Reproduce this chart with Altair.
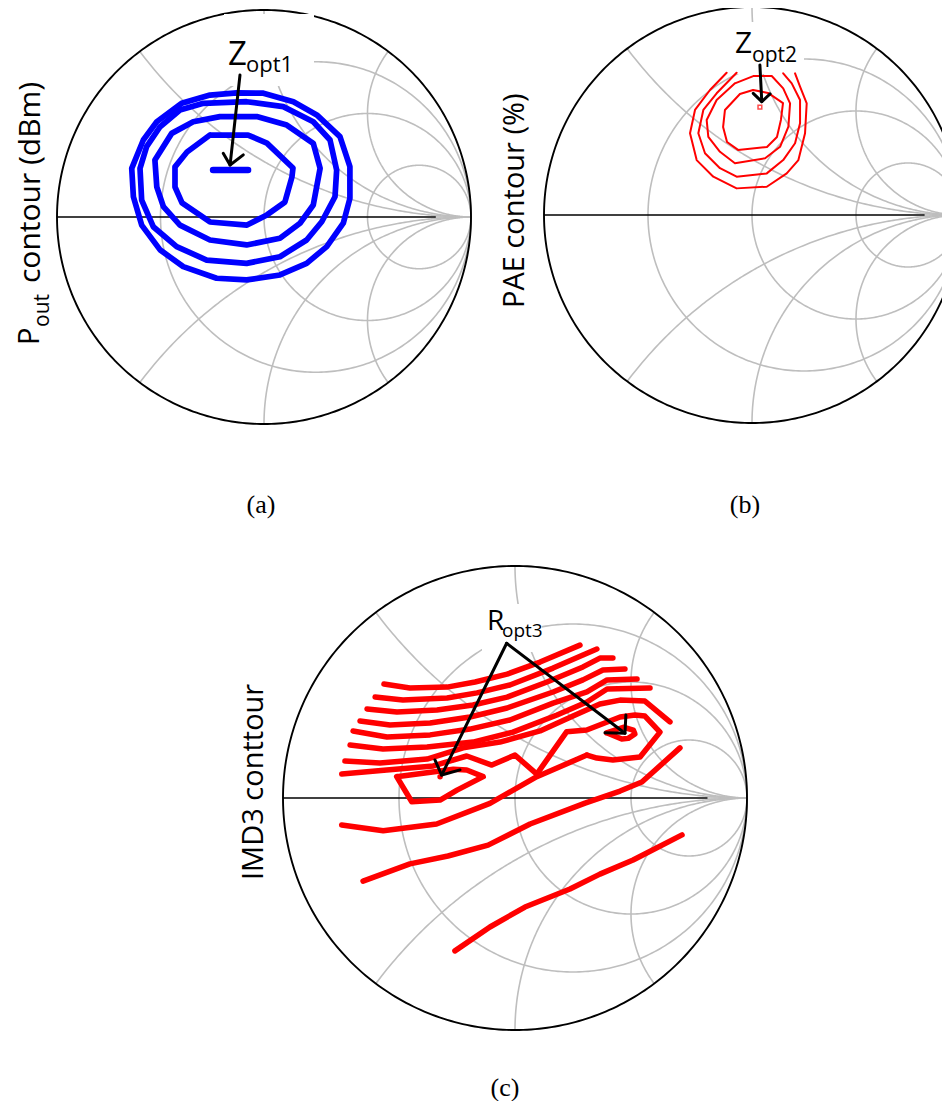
import numpy as np
import pandas as pd
import altair as alt

# ---------------- layout of the three Smith charts (page pixels: centre x, centre y, radius)
PANELS = {"a": (264.0, 217.0, 207.0), "b": (752.0, 215.0, 208.0), "c": (515.0, 798.0, 232.0)}

# ---------------- Smith chart grid values
R_CIRCLES = [1 / 3, 1.0, 3.0]
X_ARCS = [0.5, 1.0, 2.0]
AXIS_BLACK_END = 0.83

# ---------------- (a) Pout contours (reflection coefficient, real / imag)
A1_RE = [-0.398, -0.261, -0.132, -0.003, 0.142, 0.255, 0.367, 0.415, 0.415, 0.383, 0.303, 0.206, 0.077, -0.084, -0.229, -0.390, -0.502, -0.591, -0.631, -0.639, -0.583, -0.518]
A1_IM = [0.549, 0.589, 0.600, 0.598, 0.557, 0.493, 0.388, 0.243, 0.090, -0.030, -0.143, -0.224, -0.280, -0.304, -0.296, -0.240, -0.159, -0.039, 0.098, 0.235, 0.372, 0.460]
A2_RE = [-0.502, -0.406, -0.293, -0.084, 0.093, 0.238, 0.319, 0.351, 0.343, 0.279, 0.206, 0.077, -0.084, -0.277, -0.422, -0.535, -0.591, -0.599, -0.567]
A2_IM = [0.436, 0.517, 0.549, 0.557, 0.533, 0.460, 0.372, 0.227, 0.098, -0.023, -0.111, -0.192, -0.224, -0.208, -0.143, -0.047, 0.082, 0.235, 0.340]
A3_RE = [-0.213, -0.035, 0.110, 0.238, 0.271, 0.238, 0.174, 0.077, -0.084, -0.261, -0.406, -0.486, -0.518, -0.527, -0.446, -0.342]
A3_IM = [0.485, 0.485, 0.444, 0.356, 0.235, 0.058, -0.030, -0.103, -0.135, -0.111, -0.039, 0.050, 0.146, 0.275, 0.404, 0.460]
A4_RE = [-0.261, -0.077, 0.014, 0.140, 0.135, 0.101, 0.014, -0.082, -0.261, -0.396, -0.430, -0.430, -0.372]
A4_IM = [0.396, 0.396, 0.357, 0.237, 0.193, 0.072, 0.010, -0.039, -0.024, 0.068, 0.145, 0.242, 0.314]
A_OPT_RE = [-0.246, -0.077]
A_OPT_IM = [0.227, 0.227]

# ---------------- (b) PAE contours
B1_RE = [-0.058, 0.005, 0.077, 0.149, 0.139, 0.120, 0.072, -0.067, -0.120, -0.139, -0.130]
B1_IM = [0.582, 0.601, 0.587, 0.538, 0.457, 0.375, 0.327, 0.313, 0.351, 0.423, 0.505]
B2_RE = [-0.082, 0.006, 0.095, 0.150, 0.183, 0.175, 0.135, 0.063, -0.082, -0.154, -0.210, -0.218, -0.170]
B2_IM = [0.633, 0.668, 0.668, 0.609, 0.537, 0.425, 0.328, 0.273, 0.249, 0.304, 0.376, 0.457, 0.553]
B3_RE = [-0.074, -0.170, -0.234, -0.258, -0.226, -0.154, -0.074, 0.071, 0.150, 0.207, 0.231, 0.231, 0.191, 0.150]
B3_IM = [0.684, 0.585, 0.505, 0.393, 0.297, 0.225, 0.184, 0.200, 0.264, 0.345, 0.441, 0.553, 0.633, 0.681]
B4_RE = [-0.122, -0.202, -0.274, -0.298, -0.266, -0.186, -0.074, 0.071, 0.167, 0.223, 0.255, 0.263, 0.231, 0.207]
B4_IM = [0.684, 0.601, 0.505, 0.393, 0.264, 0.184, 0.128, 0.136, 0.200, 0.264, 0.393, 0.537, 0.617, 0.681]
B_OPT_RE = [0.038]
B_OPT_IM = [0.519]

# ---------------- (c) IMD3 contours
C_L1_RE = [-0.565, -0.453, -0.293, -0.172, -0.034, 0.108, 0.280]
C_L1_IM = [0.491, 0.474, 0.478, 0.500, 0.534, 0.586, 0.659]
C_L2_RE = [-0.603, -0.483, -0.293, -0.164, -0.022, 0.164, 0.293, 0.353]
C_L2_IM = [0.435, 0.422, 0.431, 0.453, 0.487, 0.560, 0.616, 0.642]
C_L3_RE = [-0.638, -0.509, -0.336, -0.181, -0.034, 0.138, 0.293, 0.366, 0.422]
C_L3_IM = [0.384, 0.371, 0.379, 0.401, 0.435, 0.500, 0.565, 0.603, 0.603]
C_L4_RE = [-0.668, -0.539, -0.366, -0.194, -0.034, 0.164, 0.293, 0.379, 0.474]
C_L4_IM = [0.332, 0.315, 0.323, 0.349, 0.388, 0.457, 0.509, 0.552, 0.556]
C_L5_RE = [-0.698, -0.552, -0.366, -0.194, -0.022, 0.164, 0.310, 0.397, 0.526]
C_L5_IM = [0.289, 0.263, 0.272, 0.297, 0.336, 0.409, 0.457, 0.509, 0.513]
C_L6_RE = [-0.711, -0.569, -0.379, -0.181, -0.009, 0.181, 0.310, 0.397, 0.582]
C_L6_IM = [0.228, 0.211, 0.220, 0.241, 0.284, 0.358, 0.414, 0.470, 0.474]
C_L7_RE = [-0.733, -0.582, -0.379, -0.224, -0.065, 0.108, 0.250, 0.366, 0.453, 0.560, 0.668]
C_L7_IM = [0.159, 0.151, 0.168, 0.216, 0.241, 0.289, 0.353, 0.405, 0.422, 0.418, 0.328]
C_L8_RE = [-0.747, -0.553, -0.352, -0.208, -0.100, 0.000, 0.094]
C_L8_IM = [0.103, 0.121, 0.138, 0.181, 0.142, 0.185, 0.103]
C_LOOP_RE = [0.094, 0.223, 0.309, 0.453, 0.517, 0.560, 0.625, 0.539, 0.422, 0.353, 0.310]
C_LOOP_IM = [0.103, 0.286, 0.293, 0.349, 0.358, 0.353, 0.284, 0.177, 0.164, 0.172, 0.185]
C_D1_RE = [-0.747, -0.568, -0.338, -0.108, 0.094, 0.310]
C_D1_IM = [-0.116, -0.141, -0.112, -0.023, 0.092, 0.185]
C_POLY_RE = [-0.510, -0.445, -0.323, -0.250, -0.137, -0.208, -0.266]
C_POLY_IM = [0.092, -0.016, -0.009, 0.034, 0.092, 0.121, 0.124]
C_SMALL_RE = [0.395, 0.467, 0.510, 0.517, 0.488, 0.460]
C_SMALL_IM = [0.281, 0.305, 0.293, 0.276, 0.257, 0.254]
C_D2_RE = [-0.655, -0.453, -0.289, -0.116, 0.065, 0.302, 0.453, 0.547, 0.711]
C_D2_IM = [-0.358, -0.284, -0.250, -0.203, -0.112, -0.022, 0.030, 0.069, 0.216]
C_D3_RE = [-0.259, -0.108, 0.043, 0.237, 0.366, 0.509, 0.720]
C_D3_IM = [-0.659, -0.556, -0.470, -0.392, -0.328, -0.267, -0.159]
C_OPT_RE = [-0.323]
C_OPT_IM = [0.092]

# ---------------- annotation arrows (real / imag)
ARR_A_SHAFT = ([-0.116, -0.164], [0.686, 0.251])
ARR_A_HEAD = ([-0.197, -0.164, -0.100], [0.308, 0.251, 0.300])
ARR_B_SHAFT = ([0.038, 0.047], [0.721, 0.545])
ARR_B_HEAD = ([0.006, 0.047, 0.087], [0.585, 0.545, 0.582])
ARR_C1_SHAFT = ([-0.036, -0.316], [0.667, 0.099])
ARR_C1_HEAD = ([-0.345, -0.316, -0.237], [0.164, 0.099, 0.121])
ARR_C2_SHAFT = ([-0.036, 0.474], [0.667, 0.279])
ARR_C2_HEAD = ([0.388, 0.474, 0.478], [0.281, 0.279, 0.358])

# ---------------- texts
LABEL_BOX_X1 = [224, 728, 482]
LABEL_BOX_X2 = [314, 804, 542]
LABEL_BOX_Y1 = [14, 22, 604]
LABEL_BOX_Y2 = [86, 74, 652]

H_TEXT = ["Z", "opt1", "Z", "opt2", "R", "opt3"]
H_TEXT_X = [228, 246, 735, 752, 487, 502]
H_TEXT_Y = [65, 72, 53, 62, 630, 637]
H_TEXT_SIZE = [33, 22, 30, 21, 28, 19]

V_TEXT = ["P", "out", "contour (dBm)", "PAE contour (%)", "IMD3 conttour"]
V_TEXT_X = [39, 49, 40, 524, 263]
V_TEXT_Y = [345, 327, 283, 308, 880]
V_TEXT_SIZE = [29, 21, 30, 29, 29]

P_TEXT = ["(a)", "(b)", "(c)"]
P_TEXT_X = [261, 745, 505]
P_TEXT_Y = [505, 505, 1088]

# ---------------- build line table
rows = []


def add(kind, gid, panel, re, im):
    cx, cy, R = PANELS[panel]
    for i, (u, v) in enumerate(zip(re, im)):
        rows.append({"kind": kind, "g": gid, "i": i, "X": cx + R * float(u), "Y": cy - R * float(v)})


def closed(re, im):
    return list(re) + [re[0]], list(im) + [im[0]]


t = np.linspace(0, 2 * np.pi, 361)
rr = np.concatenate([np.linspace(0, 1, 80), np.geomspace(1, 3000, 200)[1:]])
for p in PANELS:
    add("outer", f"{p}-outer", p, np.cos(t), np.sin(t))
    for k, r in enumerate(R_CIRCLES):
        c = r / (1 + r)
        rad = 1 / (1 + r)
        add("grid", f"{p}-r{k}", p, c + rad * np.cos(t), rad * np.sin(t))
    for k, xv in enumerate(X_ARCS):
        for s in (1, -1):
            z = rr + 1j * s * xv
            gm = (z - 1) / (z + 1)
            add("grid", f"{p}-x{k}{s}", p, list(gm.real) + [1.0], list(gm.imag) + [0.0])
    add("grid", f"{p}-tail", p, [AXIS_BLACK_END, 1.0], [0.0, 0.0])
    add("axis", f"{p}-axis", p, [-1.0, AXIS_BLACK_END], [0.0, 0.0])

for n, (re, im) in enumerate([(A1_RE, A1_IM), (A2_RE, A2_IM), (A3_RE, A3_IM), (A4_RE, A4_IM)]):
    add("blue", f"a-c{n}", "a", *closed(re, im))
add("bluebar", "a-opt", "a", A_OPT_RE, A_OPT_IM)

add("redthin", "b-c1", "b", *closed(B1_RE, B1_IM))
add("redthin", "b-c2", "b", *closed(B2_RE, B2_IM))
add("redthin", "b-c3", "b", B3_RE, B3_IM)
add("redthin", "b-c4", "b", B4_RE, B4_IM)

for n, (re, im) in enumerate([(C_L1_RE, C_L1_IM), (C_L2_RE, C_L2_IM), (C_L3_RE, C_L3_IM), (C_L4_RE, C_L4_IM),
                              (C_L5_RE, C_L5_IM), (C_L6_RE, C_L6_IM), (C_L7_RE, C_L7_IM), (C_L8_RE, C_L8_IM),
                              (C_LOOP_RE, C_LOOP_IM), (C_D1_RE, C_D1_IM), (C_D2_RE, C_D2_IM), (C_D3_RE, C_D3_IM)]):
    add("redthick", f"c-l{n}", "c", re, im)
add("redthick", "c-poly", "c", *closed(C_POLY_RE, C_POLY_IM))
add("redthick", "c-small", "c", *closed(C_SMALL_RE, C_SMALL_IM))

for gid, panel, (re, im) in [("aa-s", "a", ARR_A_SHAFT), ("aa-h", "a", ARR_A_HEAD),
                             ("ab-s", "b", ARR_B_SHAFT), ("ab-h", "b", ARR_B_HEAD),
                             ("ac1-s", "c", ARR_C1_SHAFT), ("ac1-h", "c", ARR_C1_HEAD),
                             ("ac2-s", "c", ARR_C2_SHAFT), ("ac2-h", "c", ARR_C2_HEAD)]:
    add("arrow", gid, panel, re, im)

lines_df = pd.DataFrame(rows)

pts = []
cx, cy, R = PANELS["b"]
pts.append({"kind": "sq", "X": cx + R * B_OPT_RE[0], "Y": cy - R * B_OPT_IM[0]})
cx, cy, R = PANELS["c"]
pts.append({"kind": "dot", "X": cx + R * C_OPT_RE[0], "Y": cy - R * C_OPT_IM[0]})
pts_df = pd.DataFrame(pts)

box_df = pd.DataFrame({"X": LABEL_BOX_X1, "X2": LABEL_BOX_X2, "Y": LABEL_BOX_Y1, "Y2": LABEL_BOX_Y2})
h_df = pd.DataFrame({"X": H_TEXT_X, "Y": H_TEXT_Y, "t": H_TEXT, "s": H_TEXT_SIZE})
v_df = pd.DataFrame({"X": V_TEXT_X, "Y": V_TEXT_Y, "t": V_TEXT, "s": V_TEXT_SIZE})
p_df = pd.DataFrame({"X": P_TEXT_X, "Y": P_TEXT_Y, "t": P_TEXT})

XS = alt.Scale(domain=[8, 942], nice=False, zero=False)
YS = alt.Scale(domain=[8, 1101], nice=False, zero=False, reverse=True)
XE = alt.X("X:Q", scale=XS, axis=None)
YE = alt.Y("Y:Q", scale=YS, axis=None)


def lines(kind, color, width, cap="round"):
    return (
        alt.Chart(lines_df)
        .transform_filter(alt.datum.kind == kind)
        .mark_line(color=color, strokeWidth=width, strokeCap=cap, strokeJoin="round", clip=True)
        .encode(x=XE, y=YE, detail="g:N", order="i:Q")
    )


grid = lines("grid", "#bebebe", 1.6, "butt")
axis_l = lines("axis", "#000000", 1.6, "butt")
outer = lines("outer", "#000000", 1.9, "butt")
boxes = alt.Chart(box_df).mark_rect(color="white").encode(
    x=alt.X("X:Q", scale=XS, axis=None), x2="X2:Q", y=alt.Y("Y:Q", scale=YS, axis=None), y2="Y2:Q")
blue = lines("blue", "#0000ff", 5.7)
bluebar = lines("bluebar", "#0000ff", 6.5)
redthin = lines("redthin", "#ff0000", 2.0)
redthick = lines("redthick", "#ff0000", 5.5)
arrows = lines("arrow", "#000000", 3.0)
sq = alt.Chart(pts_df).transform_filter(alt.datum.kind == "sq").mark_point(
    shape="square", size=14, filled=False, color="#ff0000", strokeWidth=1.5).encode(x=XE, y=YE)
dot = alt.Chart(pts_df).transform_filter(alt.datum.kind == "dot").mark_circle(
    size=30, color="#ff0000", opacity=1).encode(x=XE, y=YE)

h_text = alt.Chart(h_df).mark_text(align="left", baseline="alphabetic", font="Open Sans", color="black").encode(
    x=XE, y=YE, text="t:N", size=alt.Size("s:Q", scale=None, legend=None))
v_text = alt.Chart(v_df).mark_text(align="left", baseline="alphabetic", font="Open Sans", color="black", angle=270).encode(
    x=XE, y=YE, text="t:N", size=alt.Size("s:Q", scale=None, legend=None))
p_text = alt.Chart(p_df).mark_text(align="center", baseline="middle", font="Liberation Serif", fontSize=26, color="black").encode(
    x=XE, y=YE, text="t:N")

chart = (
    alt.layer(grid, axis_l, outer, boxes, blue, bluebar, redthin, redthick, sq, dot, arrows, h_text, v_text, p_text)
    .properties(width=934, height=1093, padding=0, autosize=alt.AutoSizeParams(type="none"), background="white")
    .configure_view(stroke=None)
)

chart.save("out.html", embed_options={"renderer": "svg", "actions": False})
